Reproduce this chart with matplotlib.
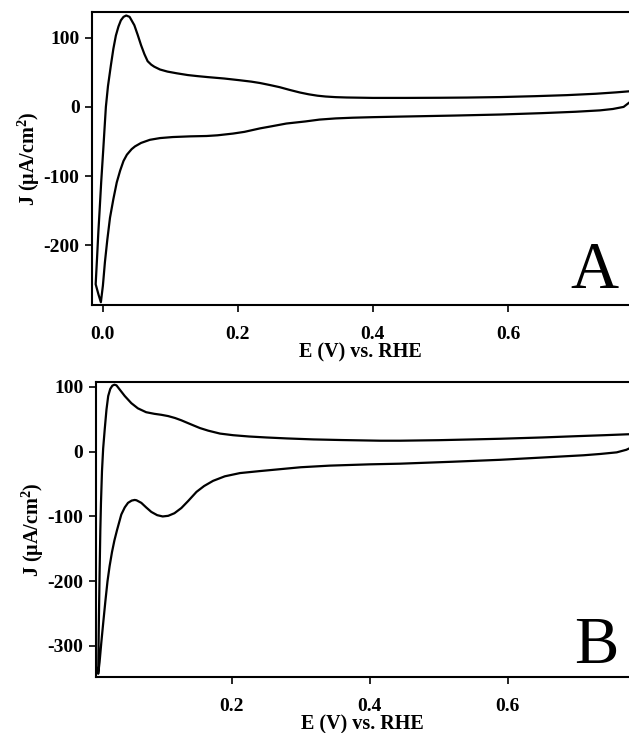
import matplotlib

matplotlib.use("Agg")

import matplotlib.pyplot as plt

plt.rcParams["font.family"] = ["Liberation Serif", "DejaVu Serif"]
plt.rcParams["font.weight"] = "bold"
plt.rcParams["axes.unicode_minus"] = False
plt.rcParams["mathtext.fontset"] = "custom"
plt.rcParams["mathtext.rm"] = "Liberation Serif:bold"
plt.rcParams["mathtext.bf"] = "Liberation Serif:bold"

# Panel A: cyclic voltammogram, cathodic branch (right->left) then anodic branch (left->right)
e_a = [
    0.779, 0.771, 0.755, 0.736, 0.70, 0.65, 0.588, 0.52, 0.44, 0.40, 0.37, 0.345, 0.321, 0.30, 0.272,
    0.25, 0.233, 0.21, 0.193, 0.17, 0.154, 0.13, 0.104, 0.085, 0.07, 0.057, 0.048, 0.043, 0.036,
    0.031, 0.026, 0.021, 0.016, 0.011, 0.007, 0.0035, 0.0005, -0.0025, -0.006, -0.0102,
    -0.008, -0.0062, -0.0044, -0.002, 0.001, 0.003, 0.0049, 0.008, 0.0123, 0.016, 0.0197, 0.0235,
    0.0271, 0.031, 0.035, 0.040, 0.047, 0.052, 0.057, 0.062, 0.0667, 0.072, 0.0766, 0.085, 0.096,
    0.11, 0.126, 0.14, 0.156, 0.18, 0.203, 0.22, 0.233, 0.248, 0.262, 0.277, 0.292, 0.305, 0.318,
    0.33, 0.345, 0.361, 0.40, 0.45, 0.50, 0.539, 0.588, 0.64, 0.687, 0.73, 0.76, 0.779,
]
j_a = [
    6, 0, -3, -5, -7, -9, -11, -12.5, -14, -14.8, -15.6, -16.6, -18.3, -21, -24,
    -28, -31, -36, -38.5, -41, -42, -42.5, -43.5, -45, -47.5, -52, -57, -61, -69,
    -78, -92, -109, -133, -160, -192, -224, -258, -282, -271, -256,
    -215, -180, -150, -108, -62, -30, 0, 30, 60, 84, 103, 116,
    125, 130, 132, 130, 118, 104, 89, 76, 66, 61, 58, 54, 51,
    48.5, 46, 44.5, 43, 41, 38.5, 36.5, 34.5, 31.5, 28.5, 24.5, 20.8, 18.2, 16.2,
    15, 14.1, 13.6, 13, 13, 13.2, 13.5, 14.2, 15.5, 17, 19, 21, 22.5,
]

# Panel B
e_b = [
    0.776, 0.772, 0.765, 0.758, 0.734, 0.71, 0.65, 0.589, 0.52, 0.444, 0.40, 0.342, 0.30, 0.27,
    0.24, 0.212, 0.19, 0.173, 0.16, 0.149, 0.137, 0.127, 0.117, 0.108, 0.10, 0.092, 0.0835, 0.076,
    0.069, 0.062, 0.0594, 0.055, 0.0497, 0.045, 0.040, 0.0338, 0.030, 0.0265, 0.023, 0.020, 0.017,
    0.014, 0.011, 0.0085, 0.0065,
    0.0075, 0.0085, 0.0096, 0.0105, 0.012, 0.0137, 0.016, 0.0185, 0.021, 0.024, 0.027, 0.030,
    0.033, 0.0377, 0.045, 0.0545, 0.064, 0.076, 0.088, 0.098, 0.108, 0.118, 0.127, 0.137, 0.146,
    0.154, 0.166, 0.183, 0.202, 0.225, 0.25, 0.28, 0.318, 0.36, 0.415, 0.444, 0.50, 0.55, 0.589,
    0.65, 0.70, 0.74, 0.776,
]
j_b = [
    5, 3, 1, -1, -3.5, -5.5, -9, -12.5, -15.5, -18.5, -19.5, -21.5, -24, -27,
    -30, -33, -38, -45, -53, -62, -76, -87, -95, -99, -100, -98, -93, -86,
    -79, -75, -74.5, -75.5, -79, -86, -97, -121, -137, -155, -177, -200, -230,
    -262, -295, -325, -343,
    -260, -190, -121, -80, -30, 5, 35, 65, 86, 97, 102, 103.5,
    102.5, 96, 86, 75, 67, 61, 58.5, 57, 55, 52, 48.5, 44, 40,
    36.5, 32.5, 28, 25.5, 23.5, 22, 20.5, 19, 18, 17, 17, 17.8, 19, 20,
    22, 24, 25.5, 27,
]

fig = plt.figure(figsize=(6.29, 7.33), dpi=100)
ax_a = fig.add_axes([0.1463, 0.5839, 0.8537, 0.3997])
ax_b = fig.add_axes([0.1526, 0.0768, 0.8474, 0.4020])

panels = [
    (ax_a, e_a, j_a, (-0.0156, 0.779), (-286, 137), [0.0, 0.2, 0.4, 0.6], [100, 0, -100, -200], "A", 0.058),
    (ax_b, e_b, j_b, (0.0033, 0.7758), (-347.5, 107.6), [0.2, 0.4, 0.6], [100, 0, -100, -200, -300], "B", 0.047),
]

for ax, e, j, xlim, ylim, xticks, yticks, tag, tag_y in panels:
    ax.plot(e, j, color="black", linewidth=1.6, solid_joinstyle="round")
    ax.set_xlim(*xlim)
    ax.set_ylim(*ylim)
    ax.set_xticks(xticks)
    ax.set_xticklabels([f"{t:.1f}" for t in xticks])
    ax.set_yticks(yticks)
    ax.set_yticklabels([str(t) for t in yticks])
    ax.spines["right"].set_visible(False)
    for side in ("left", "top", "bottom"):
        ax.spines[side].set_linewidth(1.5)
    ax.tick_params(direction="out", length=5, width=1.2, labelsize=14)
    ax.tick_params(axis="x", pad=10)
    ax.tick_params(axis="y", pad=4)
    ax.set_xlabel("E (V) vs. RHE", fontsize=14.5, fontweight="bold", labelpad=0)
    ax.set_ylabel("J (μA/cm$^{2}$)", fontsize=14.5, fontweight="bold", labelpad=1)
    ax.text(0.98, tag_y, tag, transform=ax.transAxes, ha="right", va="baseline",
            fontsize=48, fontweight="normal")

fig.savefig("out.png", dpi=100)
plt.close(fig)
